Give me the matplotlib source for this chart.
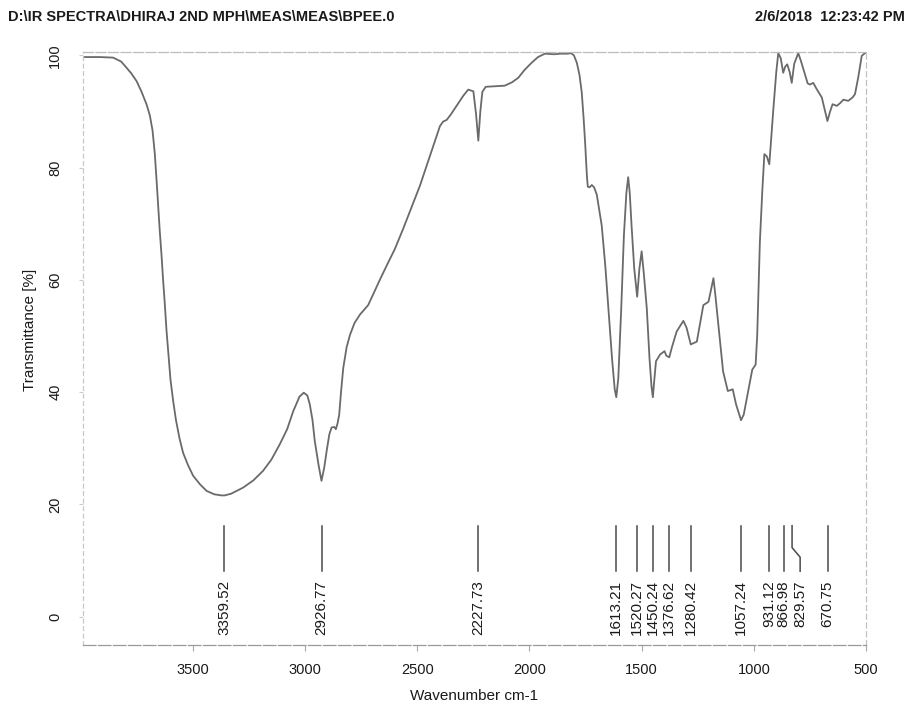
import matplotlib
matplotlib.use("Agg")
import matplotlib.pyplot as plt
from matplotlib import font_manager

# ---------------- data ----------------
wavenumber = [3990, 3915, 3856, 3820, 3796, 3775, 3751, 3730, 3707, 3692, 3680, 3670,
              3662, 3655, 3648, 3640, 3633, 3625, 3618, 3609, 3600, 3588, 3576, 3560,
              3544, 3522, 3499, 3469, 3439, 3405, 3373, 3359, 3330, 3300, 3276, 3230,
              3187, 3150, 3113, 3080, 3053, 3025, 3006, 2990, 2979, 2967, 2957, 2940,
              2927, 2915, 2904, 2892, 2882, 2870, 2863, 2855, 2848, 2840, 2830, 2815,
              2800, 2780, 2756, 2719, 2690, 2667, 2637, 2600, 2563, 2525, 2488, 2440,
              2399, 2385, 2369, 2350, 2325, 2295, 2273, 2250, 2238, 2228, 2219, 2210,
              2195, 2150, 2110, 2078, 2050, 2022, 1990, 1962, 1931, 1890, 1860, 1830,
              1815, 1802, 1789, 1777, 1767, 1759, 1752, 1744, 1740, 1732, 1722, 1712,
              1700, 1689, 1678, 1662, 1648, 1632, 1620, 1613, 1604, 1591, 1579, 1568,
              1560, 1553, 1545, 1533, 1520, 1510, 1500, 1490, 1477, 1465, 1456, 1450,
              1444, 1436, 1418, 1398, 1390, 1377, 1365, 1344, 1314, 1300, 1281, 1254,
              1245, 1225, 1202, 1180, 1172, 1158, 1137, 1116, 1094, 1079, 1057, 1045,
              1028, 1007, 992, 985, 973, 962, 953, 942, 931, 922, 913, 900, 891, 880,
              869, 860, 851, 840, 831, 820, 802, 790, 775, 760, 750, 735, 720, 697,
              685, 672, 660, 649, 630, 615, 601, 579, 560, 549, 535, 519, 505, 500]
transmittance = [99.7, 99.7, 99.6, 98.9, 97.8, 96.8, 95.4, 93.6, 91.3, 89.3, 86.6, 82.5,
                 77.7, 73.2, 68.8, 64.4, 60.0, 55.5, 51.1, 46.6, 42.2, 38.4, 35.1, 31.8,
                 29.2, 27.0, 25.1, 23.6, 22.4, 21.8, 21.6, 21.6, 21.9, 22.5, 23.0, 24.3,
                 26.0, 28.0, 30.7, 33.4, 36.6, 39.2, 39.9, 39.4, 37.8, 35.0, 31.3, 27.0,
                 24.2, 26.5, 29.5, 32.5, 33.7, 33.8, 33.4, 34.5, 36.0, 40.0, 44.3, 48.0,
                 50.2, 52.3, 53.8, 55.5, 58.0, 60.0, 62.5, 65.5, 69.1, 73.0, 76.8, 82.5,
                 87.4, 88.2, 88.5, 89.5, 91.0, 92.8, 93.9, 93.6, 89.5, 84.8, 90.0, 93.5,
                 94.4, 94.5, 94.6, 95.2, 96.0, 97.4, 98.7, 99.7, 100.3, 100.2, 100.3, 100.3,
                 100.4, 100.0, 98.7, 96.5, 93.4, 89.0, 84.5, 78.5, 76.6, 76.5, 76.9, 76.5,
                 75.2, 72.5, 69.7, 62.5, 54.9, 46.0, 40.5, 39.1, 42.5, 54.9, 68.0, 75.5,
                 78.3, 75.5, 69.7, 62.0, 57.0, 62.0, 65.1, 61.0, 54.9, 46.0, 41.0, 39.1,
                 42.0, 45.5, 46.7, 47.3, 46.5, 46.2, 48.0, 50.8, 52.7, 51.5, 48.5, 49.0,
                 51.0, 55.5, 56.1, 60.3, 57.5, 52.0, 43.7, 40.2, 40.5, 37.8, 35.0, 36.0,
                 39.6, 44.0, 44.9, 50.0, 66.8, 76.0, 82.4, 82.0, 80.6, 85.5, 90.4, 97.0,
                 100.4, 99.5, 96.9, 98.0, 98.4, 97.0, 95.1, 98.5, 100.4, 99.0, 97.0, 95.0,
                 94.8, 95.1, 94.0, 92.5, 90.5, 88.3, 90.0, 91.3, 91.0, 91.5, 92.1, 91.9,
                 92.5, 93.1, 96.0, 99.9, 100.4, 100.4]

peak_positions = [3359.52, 2926.77, 2227.73, 1613.21, 1520.27, 1450.24, 1376.62,
                  1280.42, 1057.24, 931.12, 866.98, 829.57, 670.75]
peak_labels = ["3359.52", "2926.77", "2227.73", "1613.21", "1520.27", "1450.24",
               "1376.62", "1280.42", "1057.24", "931.12", "866.98", "829.57", "670.75"]

x_ticks = [3500, 3000, 2500, 2000, 1500, 1000, 500]
y_ticks = [0, 20, 40, 60, 80, 100]

header_left = "D:\\IR SPECTRA\\DHIRAJ 2ND MPH\\MEAS\\MEAS\\BPEE.0"
header_right = "2/6/2018  12:23:42 PM"

# ---------------- fonts ----------------
def has_font(name):
    try:
        font_manager.findfont(font_manager.FontProperties(family=name), fallback_to_default=False)
        return True
    except Exception:
        return False

base_font = "Liberation Sans" if has_font("Liberation Sans") else "DejaVu Sans"
narrow_font = "Liberation Sans Narrow" if has_font("Liberation Sans Narrow") else base_font
plt.rcParams['font.family'] = [base_font, 'DejaVu Sans']

# ---------------- figure ----------------
fig = plt.figure(figsize=(9.12, 7.02), dpi=100)
ax = fig.add_axes([83 / 912, 1 - 645 / 702, (866 - 83) / 912, (645 - 52) / 702])

line_col = "#6a6a6a"
ax.plot(wavenumber, transmittance, color=line_col, lw=1.3, solid_joinstyle="round")

ax.set_xlim(3990, 500)
ax.set_ylim(-5.05, 100.6)

ax.set_xticks(x_ticks)
ax.set_yticks(y_ticks)
ax.set_xticklabels([str(v) for v in x_ticks], fontsize=10.5)
ax.set_yticklabels([str(v) for v in y_ticks], fontsize=10.5, rotation=90, va="center")
ax.tick_params(axis="x", direction="out", length=4, width=0.8, color="#aaaaaa", pad=9,
               labelcolor="#1a1a1a")
ax.tick_params(axis="y", direction="out", length=3, width=0.8, color="#cccccc", pad=12,
               labelcolor="#1a1a1a")

for side, sp in ax.spines.items():
    sp.set_linewidth(0.9)
ax.spines["left"].set_color("#c8c8c8")
ax.spines["left"].set_linestyle((0, (3, 3)))
ax.spines["top"].set_color("#bdbdbd")
ax.spines["top"].set_linestyle((0, (8, 2)))
ax.spines["right"].set_color("#c0c0c0")
ax.spines["right"].set_linestyle((0, (4, 3)))
ax.spines["bottom"].set_color("#9a9a9a")
ax.spines["bottom"].set_linestyle((0, (10, 2)))

ax.set_xlabel("Wavenumber cm-1", fontsize=11, color="#1a1a1a")
ax.set_ylabel("Transmittance [%]", fontsize=11, color="#1a1a1a")
ax.xaxis.set_label_coords(0.499, -0.074)
ax.yaxis.set_label_coords(-0.059, 0.531)

# ---------------- peak markers ----------------
mark_col = "#4a4a4a"
for pos, lab in zip(peak_positions, peak_labels):
    if lab == "829.57":
        tx = pos - 36
        ax.plot([pos, pos, tx, tx], [16.2, 12.3, 10.6, 8.1], color=mark_col, lw=1.1)
    else:
        tx = pos
        ax.plot([pos, pos], [16.2, 8.1], color=mark_col, lw=1.1)
    ax.text(tx, 6.5, lab, rotation=90, ha="center", va="top", fontsize=11,
            color="#1a1a1a")

# ---------------- header ----------------
fig.text(8 / 912, 1 - 17 / 702, header_left, ha="left", va="center", fontsize=10.5,
         fontweight="bold", family=[narrow_font, "DejaVu Sans"], color="#1a1a1a")
fig.text(905 / 912, 1 - 17 / 702, header_right, ha="right", va="center", fontsize=10.5,
         fontweight="bold", family=[narrow_font, "DejaVu Sans"], color="#1a1a1a")

fig.savefig("out.png", dpi=100, facecolor="white")
